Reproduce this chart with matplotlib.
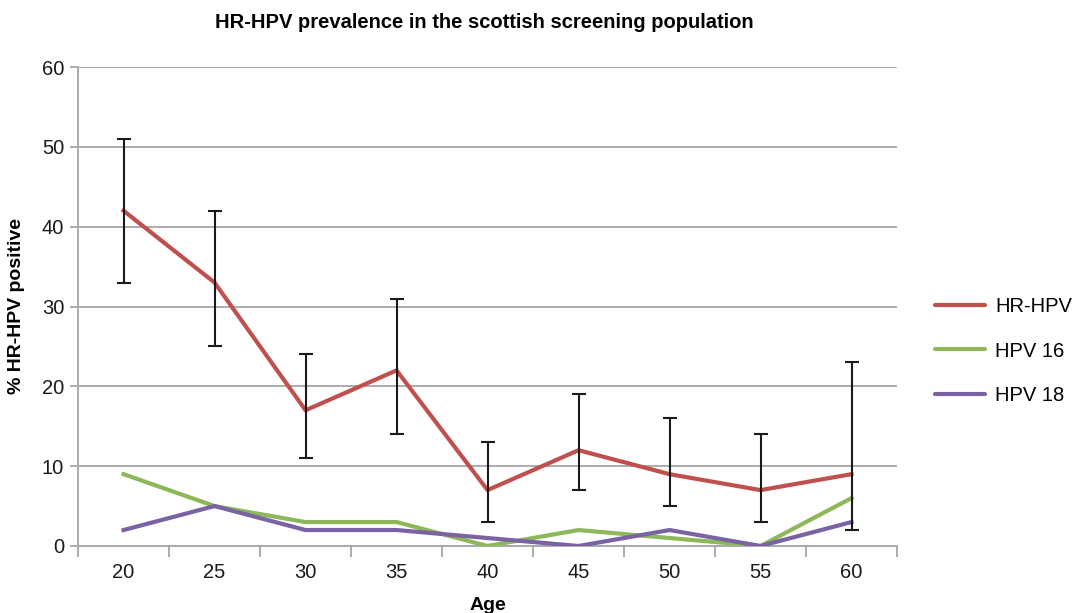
import matplotlib
matplotlib.use("Agg")
import matplotlib.pyplot as plt
import numpy as np

plt.rcParams['font.family'] = ['Liberation Sans', 'DejaVu Sans']

ages = ["20", "25", "30", "35", "40", "45", "50", "55", "60"]
hr_hpv = [42, 33, 17, 22, 7, 12, 9, 7, 9]
hr_hpv_low = [33, 25, 11, 14, 3, 7, 5, 3, 2]
hr_hpv_high = [51, 42, 24, 31, 13, 19, 16, 14, 23]
hpv16 = [9, 5, 3, 3, 0, 2, 1, 0, 6]
hpv18 = [2, 5, 2, 2, 1, 0, 2, 0, 3]

RED = "#C0504D"
GREEN = "#8DB85A"
PURPLE = "#7A62A3"
GRID = "#A6A6A6"

fig = plt.figure(figsize=(10.84, 6.13), dpi=100)
ax = fig.add_axes([0.072, 0.1093, 0.7555, 0.7814])

x = np.arange(len(ages))
lw = 3.0
ax.plot(x, hr_hpv, color=RED, lw=lw, label="HR-HPV", zorder=3)
ax.plot(x, hpv16, color=GREEN, lw=lw, label="HPV 16", zorder=3)
ax.plot(x, hpv18, color=PURPLE, lw=lw, label="HPV 18", zorder=3)

yerr = np.array([np.subtract(hr_hpv, hr_hpv_low), np.subtract(hr_hpv_high, hr_hpv)])
ax.errorbar(x, hr_hpv, yerr=yerr, fmt="none", ecolor="#1a1a1a", elinewidth=1.5,
            capsize=5, capthick=1.5, zorder=4)

ax.set_xlim(-0.5, len(ages) - 0.5)
ax.set_ylim(0, 60)
ax.set_yticks(np.arange(0, 61, 10))
ax.yaxis.grid(True, color=GRID, lw=1.3)
ax.set_axisbelow(True)

ax.set_xticks(x)
ax.set_xticklabels(ages)
ax.set_xticks(np.arange(-0.5, len(ages)), minor=True)
ax.tick_params(axis="x", which="major", length=0, pad=12, labelsize=14.5, colors="#1a1a1a")
ax.tick_params(axis="x", which="minor", length=8, width=1.3, color=GRID, direction="out")
ax.tick_params(axis="y", length=6, width=1.3, color=GRID, pad=4, labelsize=14.5, labelcolor="#1a1a1a")

for side in ("top", "right"):
    ax.spines[side].set_visible(False)
for side in ("left", "bottom"):
    ax.spines[side].set_color(GRID)
    ax.spines[side].set_linewidth(1.3)

ax.set_xlabel("Age", fontsize=14, fontweight="bold", labelpad=11)
ax.set_ylabel("% HR-HPV positive", fontsize=14, fontweight="bold", labelpad=12)
fig.suptitle("HR-HPV prevalence in the scottish screening population",
             fontsize=14.5, fontweight="bold", x=0.447, y=0.978)

leg = ax.legend(loc="center left", bbox_to_anchor=(1.024, 0.407), frameon=False,
                fontsize=14.5, handlelength=2.5, labelspacing=1.28, handletextpad=0.5)
for h in leg.get_lines():
    h.set_solid_capstyle("round")

fig.savefig("out.png", dpi=100)
